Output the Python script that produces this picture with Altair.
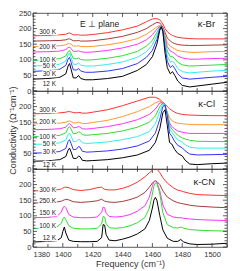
import altair as alt
import pandas as pd

# ---------------- data ----------------
TEMPS = ["300 K", "250 K", "200 K", "150 K", "100 K", "50 K", "30 K", "12 K"]
COLORS = ["#ff3333", "#a33c3c", "#ff9933", "#ff33ff", "#33dd33", "#33eeee", "#3333ff", "#000000"]

# kappa-Br panel
F_BR = [1380, 1390, 1398, 1402, 1403.5, 1404.5, 1405.5, 1407, 1409, 1410.5, 1412, 1415, 1420, 1430, 1440,
        1450, 1456, 1460, 1463, 1465, 1466, 1467, 1468.5, 1470, 1472, 1473.5, 1475, 1477, 1480, 1485,
        1490, 1500, 1510]
BR_300 = [177, 178, 180, 182, 185, 186, 184, 180, 180, 180, 179, 179, 181, 187, 196, 208, 222, 231, 232, 228,
          222, 215, 200, 190, 182, 178, 175, 172, 170, 168, 167, 167, 167]
BR_250 = [160, 161, 162, 164, 167, 167, 165, 161, 161, 162, 160, 160, 161, 167, 175, 188, 200, 212, 220, 218,
          212, 205, 188, 170, 160, 155, 152, 149, 147, 146, 146, 147, 148]
BR_200 = [142, 143, 145, 148, 152, 153, 150, 144, 144, 145, 143, 142, 143, 148, 156, 168, 182, 195, 206, 210,
          208, 200, 178, 155, 143, 139, 135, 130, 127, 124, 124, 126, 127]
BR_150 = [125, 126, 128, 133, 139, 141, 136, 127, 127, 129, 126, 124, 125, 130, 138, 150, 164, 180, 198, 208,
          208, 200, 172, 142, 128, 125, 120, 112, 106, 102, 102, 104, 105]
BR_100 = [98, 100, 104, 112, 126, 130, 120, 104, 103, 106, 101, 99, 100, 105, 113, 127, 144, 162, 188, 205,
          208, 200, 165, 128, 110, 110, 104, 92, 84, 80, 81, 83, 85]
BR_50 = [80, 82, 86, 96, 115, 122, 108, 86, 85, 90, 83, 80, 80, 85, 93, 108, 126, 148, 178, 203,
         208, 198, 155, 112, 92, 96, 88, 72, 62, 58, 60, 64, 66]
BR_30 = [63, 65, 70, 82, 102, 108, 92, 68, 67, 72, 64, 60, 60, 64, 72, 88, 108, 130, 165, 200,
         207, 195, 140, 95, 75, 82, 72, 55, 42, 38, 40, 44, 47]
BR_12 = [38, 40, 44, 55, 80, 88, 70, 42, 42, 50, 40, 36, 36, 40, 47, 66, 85, 110, 150, 195,
         205, 190, 120, 75, 55, 62, 50, 32, 18, 13, 16, 22, 28]

# kappa-Cl panel
F_CL = [1380, 1390, 1398, 1402, 1403.5, 1404.5, 1405.5, 1407, 1409, 1410.5, 1411.5, 1413, 1416, 1420, 1430,
        1440, 1450, 1458, 1462, 1465, 1467, 1468.5, 1470, 1471.5, 1473, 1475, 1477, 1480, 1482, 1485,
        1490, 1500, 1510]
CL_300 = [177, 178, 180, 182, 184, 184, 183, 181, 180, 181, 181, 179, 179, 182, 190, 203, 218, 230, 230, 223,
          214, 208, 200, 193, 188, 182, 178, 175, 174, 173, 172, 171, 171]
CL_200 = [145, 146, 147, 150, 153, 154, 152, 148, 148, 150, 149, 146, 146, 149, 156, 168, 184, 200, 212, 218,
          210, 200, 182, 165, 155, 150, 147, 145, 144, 143, 142, 142, 142]
CL_150 = [126, 127, 129, 134, 143, 146, 141, 132, 133, 136, 135, 129, 128, 130, 136, 145, 158, 175, 192, 212,
          212, 200, 178, 148, 136, 128, 122, 118, 116, 114, 114, 114, 114]
CL_100 = [104, 105, 108, 116, 132, 136, 128, 113, 114, 119, 118, 110, 108, 110, 114, 122, 134, 150, 170, 200,
          212, 205, 180, 140, 128, 118, 108, 100, 96, 92, 89, 88, 88]
CL_50 = [79, 80, 84, 93, 110, 115, 106, 88, 89, 95, 93, 84, 82, 83, 87, 94, 104, 120, 145, 185,
         208, 206, 175, 130, 118, 105, 94, 86, 78, 70, 67, 67, 67]
CL_30 = [51, 52, 56, 66, 88, 94, 82, 62, 63, 72, 70, 57, 54, 55, 58, 64, 74, 90, 115, 160,
         200, 205, 170, 115, 105, 88, 76, 68, 58, 48, 45, 46, 47]
CL_12 = [25, 26, 30, 40, 60, 67, 55, 34, 34, 41, 40, 28, 26, 27, 30, 36, 45, 60, 85, 130,
         180, 190, 140, 85, 80, 62, 50, 42, 28, 16, 14, 17, 19]

# kappa-CN panel
F_CN = [1380, 1390, 1396, 1399, 1400, 1401, 1402, 1404, 1407, 1412, 1418, 1423, 1426, 1427, 1428,
        1429, 1431, 1435, 1440, 1445, 1450, 1455, 1458, 1460, 1461, 1462, 1463, 1465, 1467, 1470,
        1474, 1477, 1479, 1481, 1485, 1490, 1500, 1510]
CN_300 = [180, 181, 183, 186, 189, 191, 192, 190, 184, 181, 184, 190, 192, 188, 185, 184, 183, 183, 188, 196,
          208, 225, 238, 246, 252, 255, 250, 238, 222, 205, 190, 182, 180, 177, 172, 168, 166, 165]
CN_250 = [141, 142, 144, 147, 149, 151, 153, 151, 145, 143, 145, 148, 153, 150, 147, 146, 144, 143, 146, 152,
          160, 175, 192, 205, 210, 212, 210, 200, 180, 160, 148, 142, 140, 138, 134, 131, 128, 126]
CN_150 = [94, 95, 98, 112, 125, 131, 126, 104, 96, 94, 94, 96, 112, 128, 126, 108, 98, 96, 98, 104,
          115, 132, 160, 195, 208, 212, 208, 180, 135, 105, 96, 94, 94, 92, 90, 88, 86, 85]
CN_100 = [59, 60, 64, 76, 90, 96, 88, 68, 60, 58, 58, 60, 74, 98, 96, 75, 62, 60, 62, 68,
          78, 95, 125, 170, 195, 205, 206, 170, 110, 72, 62, 61, 64, 60, 56, 54, 52, 51]
CN_12 = [16, 18, 20, 30, 50, 64, 45, 22, 18, 17, 17, 18, 30, 72, 70, 40, 22, 20, 25, 32,
         42, 58, 85, 125, 150, 159, 150, 100, 55, 28, 18, 18, 24, 16, 10, 8, 9, 12]

# temperature labels inside panels
LAB_BR = ["300 K", "200 K", "100 K", "50 K", "30 K", "12 K"]
LAB_BR_Y = [190, 142, 98, 79, 54, 22]
LAB_CL = ["300 K", "200 K", "100 K", "50 K", "30 K", "12 K"]
LAB_CL_Y = [190, 152, 104, 79, 54, 13]
LAB_CN = ["300 K", "250 K", "150 K", "100 K", "12 K"]
LAB_CN_Y = [184, 149, 108, 67, 28]
LAB_X = 1395.5

# axis values
X_LABELS = [1380, 1400, 1420, 1440, 1460, 1480, 1500]
X_MINOR = [1390, 1410, 1430, 1450, 1470, 1490, 1510]
Y_LABELS_TOP = [0, 50, 100, 150, 200, 250]
Y_LABELS = [0, 50, 100, 150, 200]
Y_MAJOR = [0, 50, 100, 150, 200, 250]
Y_MINOR = [10, 20, 30, 40, 60, 70, 80, 90, 110, 120, 130, 140, 160, 170, 180, 190,
           210, 220, 230, 240]

# ---------------- chart ----------------
W, H = 194, 78
FONT = "Liberation Sans"
INK = "#333333"
XS = alt.Scale(domain=[1380, 1510], nice=False, zero=False)
YS = alt.Scale(domain=[0, 250], nice=False, zero=False)


def panel(freqs, curves, labs, labs_y, name, name_y, y_labels, y_title, x_axis, note=None):
    rows = []
    for t, vals in curves:
        for f, v in zip(freqs, vals):
            rows.append({"f": f, "v": v, "T": t})
    df = pd.DataFrame(rows)

    yax = alt.Axis(values=y_labels, ticks=False, domain=False, grid=False, labelFontSize=7.5,
                   labelPadding=2, labelFont=FONT, labelColor=INK,
                   title=y_title, titleFontSize=9, titleFont=FONT, titleColor=INK,
                   titleFontWeight="normal", titlePadding=1)
    if x_axis:
        xax = alt.Axis(values=X_LABELS, ticks=False, domain=False, grid=False,
                       format="d", labelFontSize=7.5, labelPadding=3,
                       labelFont=FONT, labelColor=INK,
                       title="Frequency (cm⁻¹)", titleFontSize=9,
                       titleFont=FONT, titleColor=INK,
                       titleFontWeight="normal", titlePadding=2)
    else:
        xax = None

    def X(field):
        return alt.X(field, type="quantitative", scale=XS, axis=xax)

    def Y(field):
        return alt.Y(field, type="quantitative", scale=YS, axis=yax)

    lines = alt.Chart(df).mark_line(strokeWidth=1, clip=True).encode(
        x=X("f"), y=Y("v"),
        color=alt.Color("T:N", scale=alt.Scale(domain=TEMPS, range=COLORS), legend=None),
    )

    ldf = pd.DataFrame({"s": labs, "v": labs_y, "f": [LAB_X] * len(labs)})
    lbase = alt.Chart(ldf).encode(x=X("f"), y=Y("v"), text="s:N")
    halo = lbase.mark_text(align="right", baseline="middle", fontSize=6.5, font=FONT,
                           fill="white", stroke="white", strokeWidth=2.5)
    txt = lbase.mark_text(align="right", baseline="middle", fontSize=6.5, font=FONT, fill="#222222")

    ndf = pd.DataFrame({"s": [name], "f": [1502], "v": [name_y]})
    ntxt = alt.Chart(ndf).mark_text(align="right", baseline="middle", fontSize=9.5, font=FONT,
                                    fill="#222222").encode(x=X("f"), y=Y("v"), text="s:N")

    layers = [lines, halo, txt, ntxt]
    if note:
        edf = pd.DataFrame({"s": [note[0]], "f": [note[1]], "v": [note[2]]})
        layers.append(alt.Chart(edf).mark_text(align="center", baseline="middle", fontSize=8.5,
                                               font=FONT, fill="#222222").encode(
            x=X("f"), y=Y("v"), text="s:N"))

    # inward ticks on all four sides
    for vals, ln in ((X_LABELS, 4), (X_MINOR, 3)):
        d = pd.DataFrame({"f": vals})
        base = alt.Chart(d).mark_rule(color=INK, strokeWidth=0.8)
        layers.append(base.encode(x=X("f"), y=alt.value(H), y2=alt.value(H - ln)))
        layers.append(base.encode(x=X("f"), y=alt.value(0), y2=alt.value(ln)))
    for vals, ln in ((Y_MAJOR, 4), (Y_MINOR, 2.5)):
        d = pd.DataFrame({"v": vals})
        base = alt.Chart(d).mark_rule(color=INK, strokeWidth=0.8)
        layers.append(base.encode(y=Y("v"), x=alt.value(0), x2=alt.value(ln)))
        layers.append(base.encode(y=Y("v"), x=alt.value(W), x2=alt.value(W - ln)))

    return alt.layer(*layers).properties(width=W, height=H)


p1 = panel(F_BR,
           [("300 K", BR_300), ("250 K", BR_250), ("200 K", BR_200), ("150 K", BR_150),
            ("100 K", BR_100), ("50 K", BR_50), ("30 K", BR_30), ("12 K", BR_12)],
           LAB_BR, LAB_BR_Y, "κ-Br", 215, Y_LABELS_TOP, None, False,
           note=("E ⊥ plane", 1424.6, 216))
p2 = panel(F_CL,
           [("300 K", CL_300), ("200 K", CL_200), ("150 K", CL_150), ("100 K", CL_100),
            ("50 K", CL_50), ("30 K", CL_30), ("12 K", CL_12)],
           LAB_CL, LAB_CL_Y, "κ-Cl", 209, Y_LABELS, "Conductivity (Ω⁻¹cm⁻¹)", False)
p3 = panel(F_CN,
           [("300 K", CN_300), ("250 K", CN_250), ("150 K", CN_150), ("100 K", CN_100), ("12 K", CN_12)],
           LAB_CN, LAB_CN_Y, "κ-CN", 209, Y_LABELS, None, True)

chart = alt.vconcat(p1, p2, p3, spacing=0, bounds="flush").properties(padding=0).configure_view(
    stroke=INK, strokeWidth=0.8
)

chart.save("out.html", embed_options={"renderer": "svg", "actions": False})
